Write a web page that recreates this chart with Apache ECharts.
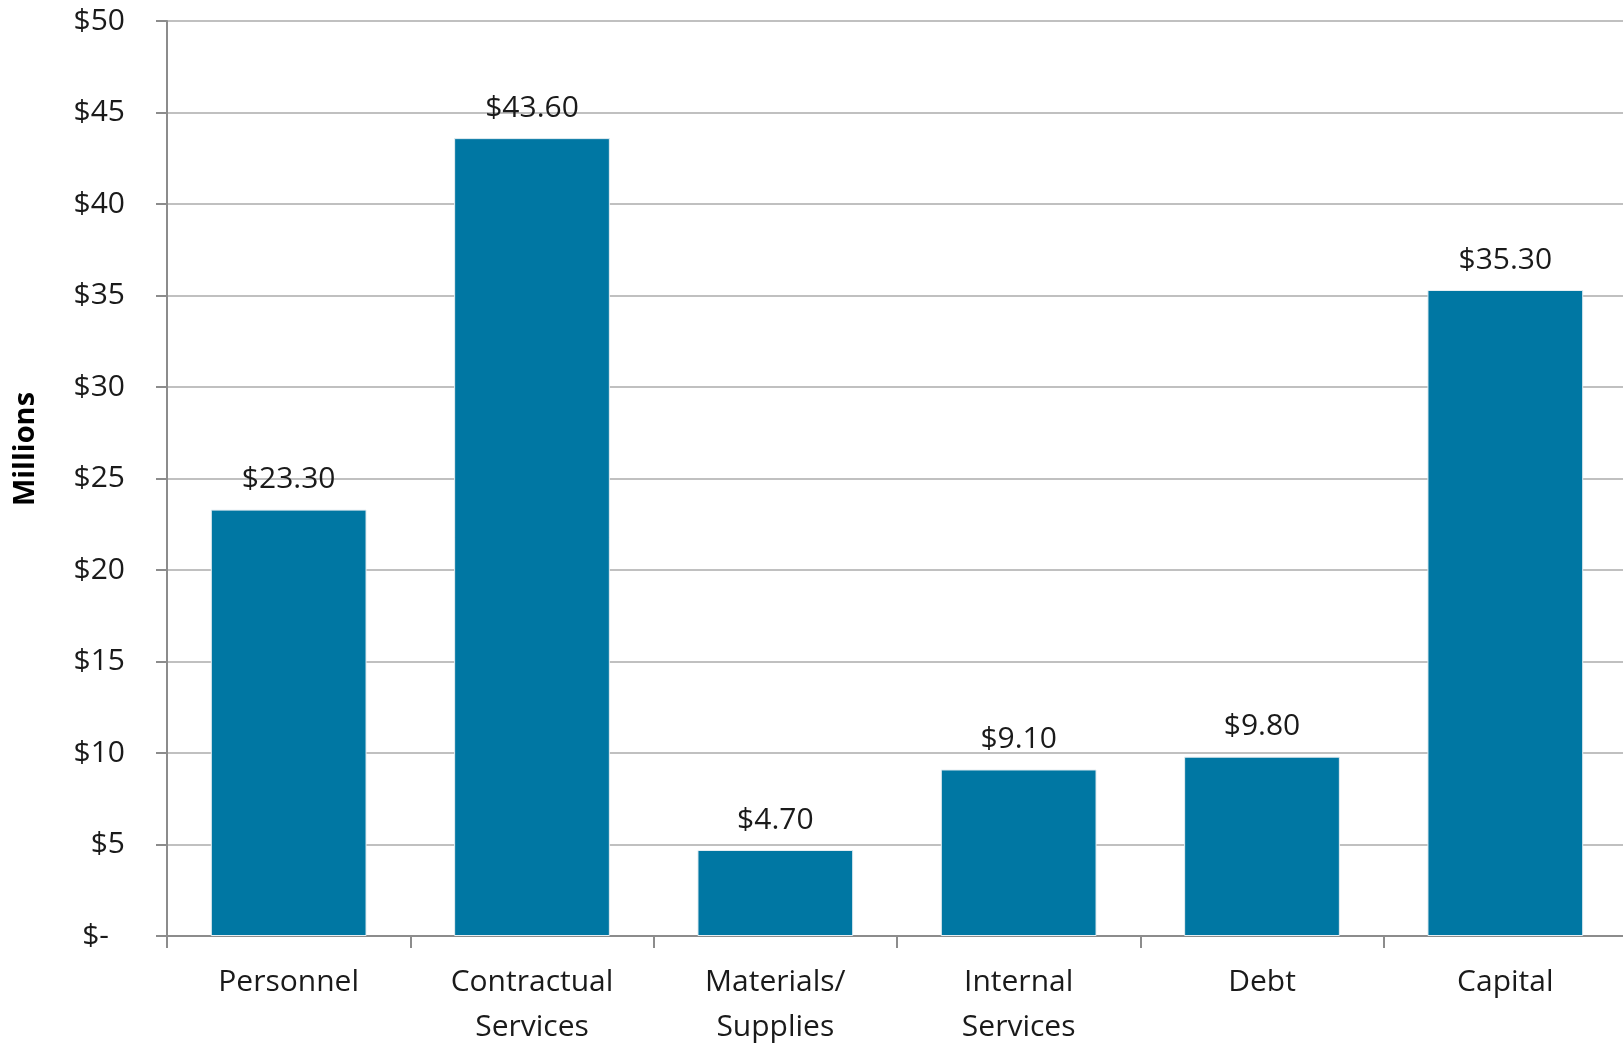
<!DOCTYPE html>
<html>
<head>
<meta charset="utf-8">
<script src="https://cdn.jsdelivr.net/npm/echarts@6/dist/echarts.min.js"></script>
<style>
html,body{margin:0;padding:0;background:#fff;}
#chart{width:1623px;height:1044px;}
</style>
</head>
<body>
<div id="chart"></div>
<script>
var categories = ['Personnel', 'Contractual\nServices', 'Materials/\nSupplies', 'Internal\nServices', 'Debt', 'Capital'];
var values = [23.3, 43.6, 4.7, 9.1, 9.8, 35.3];
var yTicks = {min: 0, max: 50, interval: 5};
var axisTitle = 'Millions';

var FONT = '"Open Sans", Lato, sans-serif';
var FS = 30;
var chart = echarts.init(document.getElementById('chart'));
chart.setOption({
  animation: false,
  backgroundColor: '#ffffff',
  grid: {left: 167, top: 21, width: 1460, height: 915, containLabel: false, outerBoundsMode: 'none'},
  graphic: [{
    type: 'text',
    x: 26, y: 449,
    rotation: Math.PI / 2,
    style: {
      text: axisTitle,
      fontFamily: FONT, fontSize: 29, fontWeight: 'bold', fill: '#000',
      align: 'center', verticalAlign: 'middle'
    }
  }],
  xAxis: {
    type: 'category',
    data: categories,
    axisLine: {show: true, lineStyle: {color: '#8c8c8c', width: 2}},
    axisTick: {show: true, alignWithLabel: false, length: 12, lineStyle: {color: '#8c8c8c', width: 2}},
    axisLabel: {fontFamily: FONT, fontSize: FS, color: '#1a1a1a', lineHeight: 45, margin: 24, interval: 0}
  },
  yAxis: {
    type: 'value',
    min: yTicks.min, max: yTicks.max, interval: yTicks.interval,
    axisLine: {show: true, lineStyle: {color: '#8c8c8c', width: 2}},
    axisTick: {show: true, length: 11, lineStyle: {color: '#8c8c8c', width: 2}},
    splitLine: {show: true, lineStyle: {color: '#c0c0c0', width: 2}},
    axisLabel: {
      fontFamily: FONT, fontSize: FS, color: '#1a1a1a', margin: 42,
      formatter: function (v) { return v === 0 ? '{z|$-}' : '$' + v; },
      rich: {z: {fontFamily: FONT, fontSize: FS, color: '#1a1a1a', padding: [0, 16, 0, 0]}}
    }
  },
  series: [{
    type: 'bar',
    data: values,
    barWidth: '64%',
    itemStyle: {color: '#0077a3', borderColor: '#e6eef2', borderWidth: 1},
    label: {
      show: true, position: 'top', distance: 15,
      fontFamily: FONT, fontSize: FS, color: '#1a1a1a',
      formatter: function (p) { return '$' + p.value.toFixed(2); }
    }
  }]
});
</script>
</body>
</html>
